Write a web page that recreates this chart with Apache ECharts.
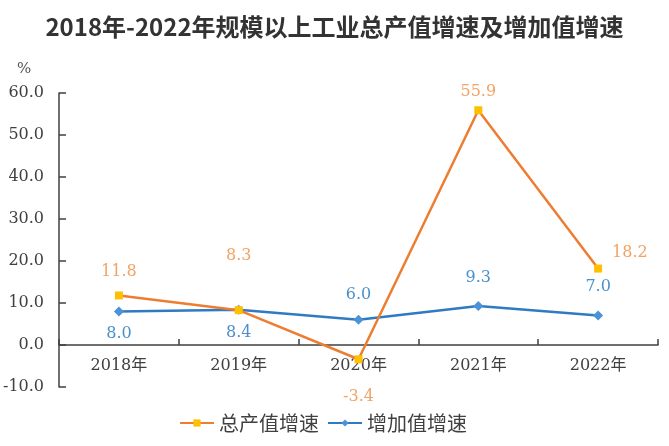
<!DOCTYPE html>
<html><head><meta charset="utf-8">
<script src="https://cdn.jsdelivr.net/npm/echarts@6/dist/echarts.min.js"></script>
<style>html,body{margin:0;padding:0;background:#fff}#c{width:669px;height:446px}</style>
</head><body><div id="c"></div>
<script>
var titleText = '2018年-2022年规模以上工业总产值增速及增加值增速';
var categories = ['2018年', '2019年', '2020年', '2021年', '2022年'];
var totalName = '总产值增速';
var addedName = '增加值增速';
var totalGrowth = [11.8, 8.3, -3.4, 55.9, 18.2];
var addedGrowth = [8.0, 8.4, 6.0, 9.3, 7.0];
var yMin = -10, yMax = 60, yStep = 10;
var unitText = '%';

var serif = '"DejaVu Serif", "Noto Sans CJK SC", serif';
var axisColor = '#404040';
var orange = '#ED7D31', orangeMark = '#FFC000', orangeLabel = '#F2A365';
var blue = '#2E7BC4', blueMark = '#4A93D8', blueLabel = '#4A90CC';

var totalLabels = [
  {position: 'top', distance: 12},
  {position: 'top', distance: 42},
  {position: 'bottom', distance: 26},
  {position: 'top', distance: 6},
  {position: 'right', distance: 10, offset: [0, -16]}
];
var addedLabels = [
  {position: 'bottom', distance: 9},
  {position: 'bottom', distance: 10},
  {position: 'top', distance: 12},
  {position: 'top', distance: 15},
  {position: 'top', distance: 16}
];
function build(vals, lbls, color) {
  return vals.map(function (v, i) {
    var l = Object.assign({show: true, color: color, fontSize: 16, fontFamily: serif,
      formatter: function (p) { return p.value.toFixed(1); }}, lbls[i]);
    return {value: v, label: l};
  });
}

var gridTop = 93, gridBottom = 59, H = 446;
var plotH = H - gridTop - gridBottom;
var zeroOffset = -plotH * (0 - yMin) / (yMax - yMin);

var chart = echarts.init(document.getElementById('c'));
chart.setOption({
  animation: false,
  title: {text: titleText, left: 'center', top: 10,
    textStyle: {fontSize: 24, fontWeight: 'bold', color: '#333', fontFamily: '"Noto Sans CJK SC", sans-serif'}},
  graphic: [{type: 'text', left: 17, top: 62, style: {text: unitText, fontSize: 15, fill: '#555', fontFamily: serif}}],
  legend: {bottom: 8, left: 174, itemWidth: 34, itemHeight: 9, itemGap: 8,
    textStyle: {fontSize: 20, color: '#404040', fontFamily: '"Noto Sans CJK SC", sans-serif'},
    data: [totalName, addedName]},
  grid: {left: 58, right: 11, top: gridTop, bottom: gridBottom},
  xAxis: {type: 'category', data: categories, boundaryGap: true,
    offset: zeroOffset,
    axisLine: {onZero: false, lineStyle: {color: axisColor, width: 1.5}},
    axisTick: {show: true, inside: true, length: 6, lineStyle: {color: axisColor, width: 1.5}},
    axisLabel: {fontSize: 16, color: axisColor, fontFamily: serif, margin: 13}},
  yAxis: {type: 'value', min: yMin, max: yMax, interval: yStep,
    splitLine: {show: false},
    axisLine: {show: true, lineStyle: {color: axisColor, width: 1.5}},
    axisTick: {show: true, inside: true, length: 7, lineStyle: {color: axisColor, width: 1.5}},
    axisLabel: {fontSize: 16, color: axisColor, fontFamily: serif, margin: 15,
      formatter: function (v) { return v.toFixed(1); }}},
  series: [
    {name: totalName, type: 'line', data: build(totalGrowth, totalLabels, orangeLabel),
      symbol: 'rect', symbolSize: 8, lineStyle: {color: orange, width: 2.5},
      itemStyle: {color: orangeMark}, color: orange, z: 3},
    {name: addedName, type: 'line', data: build(addedGrowth, addedLabels, blueLabel),
      symbol: 'diamond', symbolSize: 10, lineStyle: {color: blue, width: 2.5},
      itemStyle: {color: blueMark}, color: blue, z: 2}
  ]
});
</script></body></html>
